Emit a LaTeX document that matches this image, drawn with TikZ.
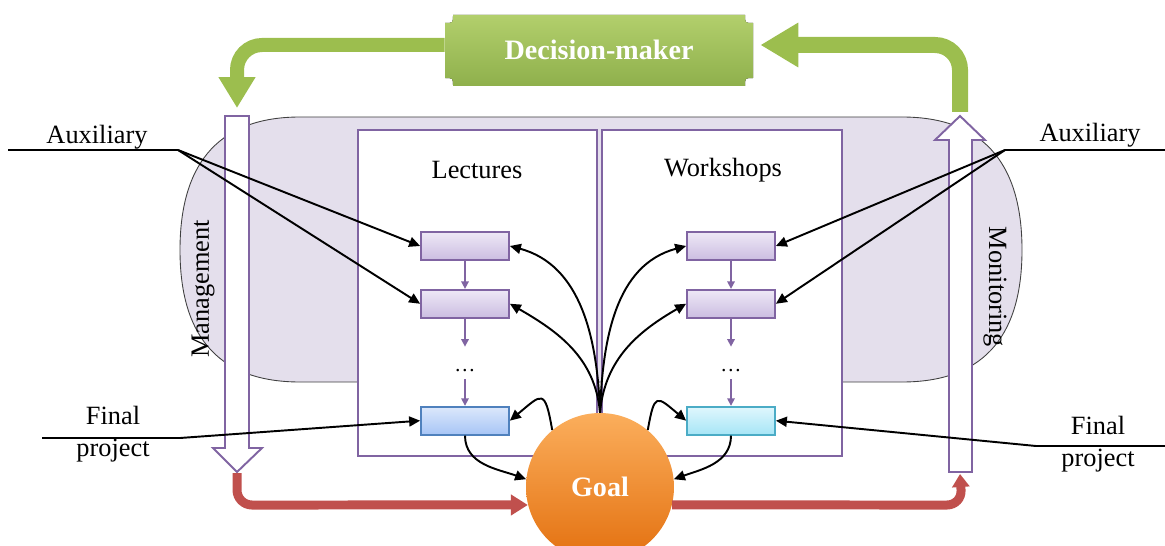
\documentclass[tikz,border=0pt]{standalone}
\usepackage{fontspec}
\setmainfont{Liberation Serif}
\usetikzlibrary{arrows.meta}
\usetikzlibrary{positioning}
\definecolor{mgPurple}{HTML}{8064A2}
\definecolor{mgLav}{HTML}{E4DFEC}
\definecolor{mgBoxTop}{HTML}{EEE8F6}
\definecolor{mgBoxBot}{HTML}{CBBDE1}
\definecolor{mgBlue}{HTML}{4F81BD}
\definecolor{mgBlueTop}{HTML}{DCE8FB}
\definecolor{mgBlueBot}{HTML}{A7C5F6}
\definecolor{mgCyan}{HTML}{4BACC6}
\definecolor{mgCyanTop}{HTML}{E0F7FD}
\definecolor{mgCyanBot}{HTML}{A6E5F6}
\definecolor{mgGreen}{HTML}{8FB04C}
\definecolor{mgGreenLt}{HTML}{B2CF6C}
\definecolor{mgArrowGreen}{HTML}{9CBE4E}
\definecolor{mgRed}{HTML}{C0504D}
\definecolor{mgOrangeLt}{HTML}{FBAE5C}
\definecolor{mgOrangeDk}{HTML}{E3700F}

\begin{document}
\begin{tikzpicture}[x=0.02cm,y=0.02cm,
  lbl/.style={font=\fontsize{15}{18}\selectfont,inner sep=1pt},
  panel/.style={draw=mgPurple,line width=1.1pt,fill=white,minimum width=#1,minimum height=6.52cm,inner sep=0pt},
  hollow/.style={draw=mgPurple,line width=1.1pt,fill=white},
  stepbox/.style={draw=mgPurple,line width=1pt,minimum width=1.76cm,minimum height=0.56cm,inner sep=0pt,top color=mgBoxTop,bottom color=mgBoxBot},
  finbox/.style={stepbox,draw=#1,top color=#1Top,bottom color=#1Bot},
  dotsnode/.style={minimum height=0.64cm,text height=0.35cm,inner sep=0pt,font=\fontsize{12}{14}\selectfont},
  flow/.style={draw=mgPurple,line width=0.9pt,-{Triangle[length=0.15cm,width=0.15cm]}},
  blk/.style={line width=1.1pt,-{Triangle[length=0.22cm,width=0.2cm]}},
  grarrow/.style={draw=mgArrowGreen,rounded corners=0.5cm},
  rdarrow/.style={draw=mgRed,line width=0.18cm,rounded corners=0.3cm}
]
\useasboundingbox (0,0) rectangle (1165,545);
\draw[fill=mgLav,draw=black!75,line width=0.5pt] (300,163) .. controls (213,163) and (180,215) .. (180,295) .. controls (180,375) and (213,428) .. (300,428) -- (902,428) .. controls (989,428) and (1022,375) .. (1022,295) .. controls (1022,215) and (989,163) .. (902,163) -- cycle;
\node[panel=4.78cm] (lec) at (477.5,252) {};
\node[panel=4.8cm] (wk) at (722,252) {};
\node[lbl] (lecT) at (477,375) {Lectures};
\node[lbl] (wkT) at (723,375) {Workshops};

\draw[hollow] (225,429) -- (249,429) -- (249,97) -- (262,97) -- (237,73) -- (213,97) -- (225,97) -- cycle;
\draw[hollow] (949,73) -- (972,73) -- (972,405) -- (985,405) -- (960,429) -- (935,405) -- (949,405) -- cycle;
\coordinate (mgTop) at (237,429);
\coordinate (mgTip) at (237,73);
\coordinate (mnTip) at (960,429);
\coordinate (mnBot) at (960,73);
\node[lbl,rotate=90] (mgT) at (203,256) {Management};
\node[lbl,rotate=-90] (mnT) at (995,258) {Monitoring};

\node[stepbox] (l1) at (465,299) {};
\node[stepbox,below=0.56cm of l1] (l2) {};
\node[dotsnode,below=0.56cm of l2] (ld) {\dots};
\node[finbox=mgBlue,below=0.53cm of ld] (l3) {};
\node[stepbox] (w1) at (731,299) {};
\node[stepbox,below=0.56cm of w1] (w2) {};
\node[dotsnode,below=0.56cm of w2] (wd) {\dots};
\node[finbox=mgCyan,below=0.53cm of wd] (w3) {};
\draw[flow] (l1) -- (l2);
\draw[flow] (l2) -- (ld);
\draw[flow] (ld) -- (l3);
\draw[flow] (w1) -- (w2);
\draw[flow] (w2) -- (wd);
\draw[flow] (wd) -- (w3);

\node[circle,minimum size=2.96cm,inner sep=0pt,top color=mgOrangeLt,bottom color=mgOrangeDk,text=white,font=\fontsize{16}{18}\selectfont\bfseries] (goal) at (600,58) {Goal};
\draw[blk] (goal.north) to[out=92,in=-15] (l1.east);
\draw[blk] (goal.north) to[out=95,in=-30] (l2.east);
\draw[blk] (goal.north) to[out=88,in=195] (w1.west);
\draw[blk] (goal.north) to[out=85,in=210] (w2.west);
\draw[blk] (goal.130) to[out=100,in=40,looseness=2.5] (l3.east);
\draw[blk] (goal.50) to[out=80,in=140,looseness=2.5] (w3.west);
\draw[blk] (l3.south) to[out=-90,in=160] (goal.174);
\draw[blk] (w3.south) to[out=-90,in=20] (goal.6);

\node[lbl] (auxL) at (97,408) {Auxiliary};
\coordinate (auxLa) at (8,395);
\coordinate (auxLb) at (178,395);
\draw[line width=1.1pt] (auxLa) -- (auxLb);
\draw[blk] (auxLb) -- (l1.west);
\draw[blk] (auxLb) -- (l2.west);
\node[lbl] (auxR) at (1090,410) {Auxiliary};
\coordinate (auxRa) at (1165,395);
\coordinate (auxRb) at (1005,395);
\draw[line width=1.1pt] (auxRa) -- (auxRb);
\draw[blk] (auxRb) -- (w1.east);
\draw[blk] (auxRb) -- (w2.east);

\node[lbl,align=center] (fpL) at (113,111) {Final\\project};
\coordinate (fpLa) at (42,107);
\coordinate (fpLb) at (180,107);
\draw[line width=1.1pt] (fpLa) -- (fpLb);
\draw[blk] (fpLb) -- (l3.west);
\node[lbl,align=center] (fpR) at (1098,101) {Final\\project};
\coordinate (fpRa) at (1165,99);
\coordinate (fpRb) at (1036,99);
\draw[line width=1.1pt] (fpRa) -- (fpRb);
\draw[blk] (fpRb) -- (w3.east);

\draw[rdarrow,-{Triangle[length=0.34cm,width=0.4cm]}] ([yshift=-0.02cm]mgTip) -- (237,40) -- (goal.194);
\draw[rdarrow,-{Triangle[length=0.26cm,width=0.34cm]}] (goal.-14) -- (962,40) -- ([yshift=-0.04cm]mnBot);

\fill[top color=mgGreenLt,bottom color=mgGreen] (453,530) -- (745,530) .. controls (745,522) .. (753,522) -- (753,467) .. controls (745,467) .. (745,459) -- (453,459) .. controls (453,467) .. (445,467) -- (445,522) .. controls (453,522) .. (453,530) -- cycle;
\node[minimum width=6.16cm,minimum height=1.42cm,inner sep=0pt,text=white,font=\fontsize{16}{18}\selectfont\bfseries] (dm) at (599,495) {Decision-maker};
\draw[grarrow,line width=0.28cm,-{Triangle[length=0.62cm,width=0.7cm]}] ([yshift=0.1cm]dm.west) -- (237,500) -- ([yshift=0.16cm]mgTop);
\draw[grarrow,line width=0.32cm,-{Triangle[length=0.76cm,width=0.84cm]}] ([yshift=0.08cm]mnTip) -- (960,500) -- ([xshift=0.14cm,yshift=0.1cm]dm.east);
\end{tikzpicture}
\end{document}
